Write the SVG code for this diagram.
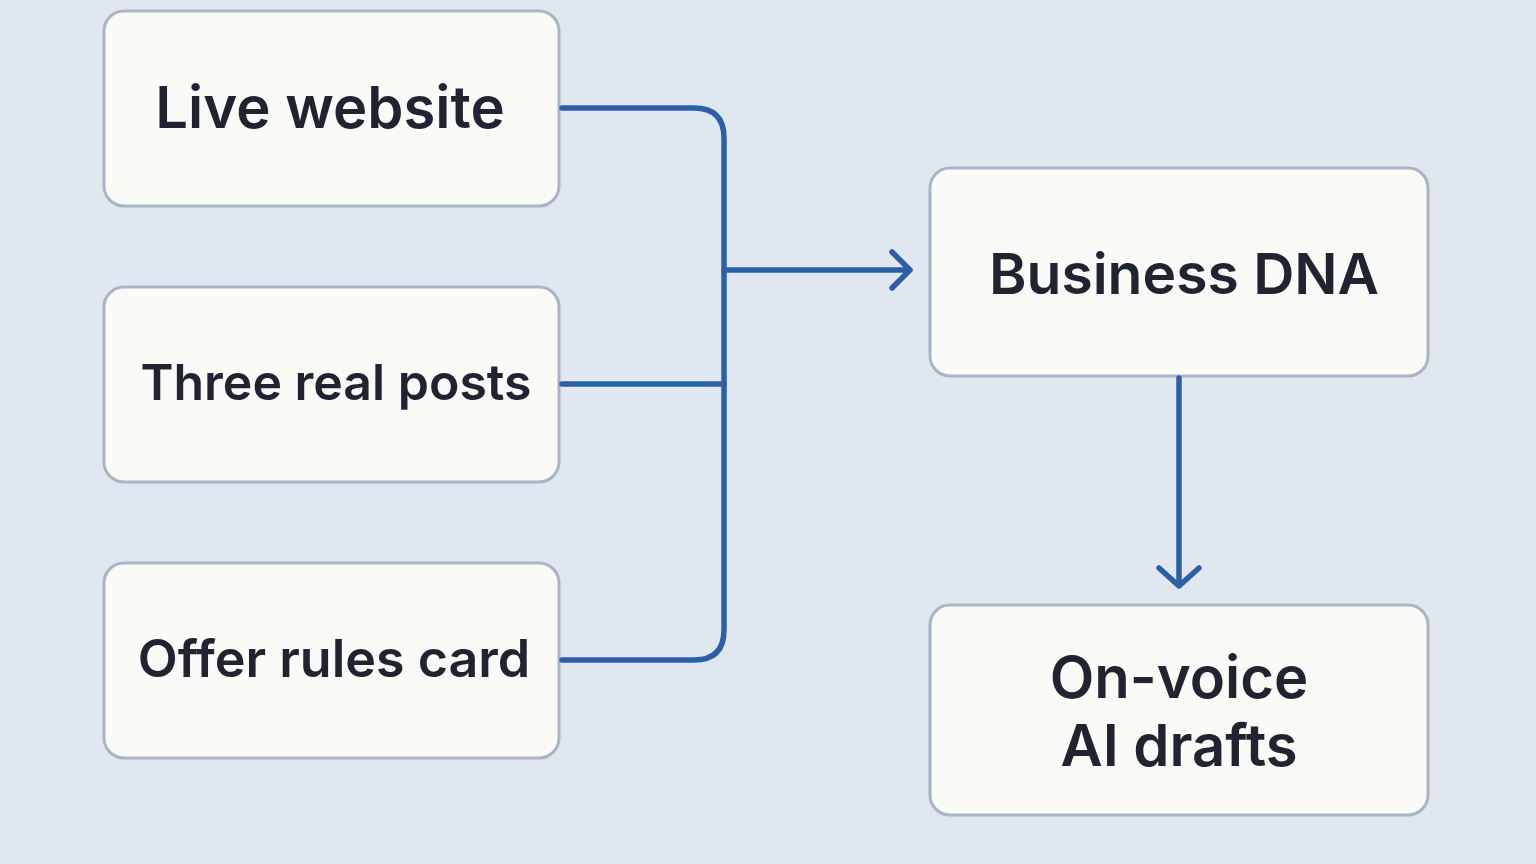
<svg xmlns="http://www.w3.org/2000/svg" width="1536" height="864" viewBox="0 0 1536 864">
<style>
.box{fill:#fafaf6;stroke:#a9b4c4;stroke-width:3}
.t{font-family:Inter,"Noto Sans",sans-serif;font-weight:600;fill:#1f2430;text-anchor:middle}
.c{fill:none;stroke:#2b5fa6;stroke-width:5.5;stroke-linecap:round;stroke-linejoin:round}
</style>
<rect width="1536" height="864" fill="#e1e7f0"/>
<g id="live"><rect class="box" x="104" y="11" width="455" height="195" rx="20"/><text class="t" x="330" y="128" font-size="58">Live website</text></g>
<g id="posts"><rect class="box" x="104" y="287" width="455" height="195" rx="20"/><text class="t" x="336" y="400" font-size="50">Three real posts</text></g>
<g id="offer"><rect class="box" x="104" y="563" width="455" height="195" rx="20"/><text class="t" x="334" y="677" font-size="52">Offer rules card</text></g>
<g id="dna"><rect class="box" x="930" y="168" width="498" height="208" rx="20"/><text class="t" x="1184" y="294" font-size="57">Business DNA</text></g>
<g id="drafts"><rect class="box" x="930" y="605" width="498" height="210" rx="20"/><text class="t" x="1179" y="698" font-size="58">On-voice</text><text class="t" x="1179" y="766" font-size="58">AI drafts</text></g>
<g id="connectors">
<path class="c" d="M562 108 H694 Q724 108 724 138 V630 Q724 660 694 660 H562"/>
<path class="c" d="M562 384 H724"/>
<path class="c" d="M724 270 H910 M892 252 L910 270 L892 288"/>
<path class="c" d="M1179 378 V586 M1159 568 L1179 586 L1199 568"/>
</g>
</svg>
